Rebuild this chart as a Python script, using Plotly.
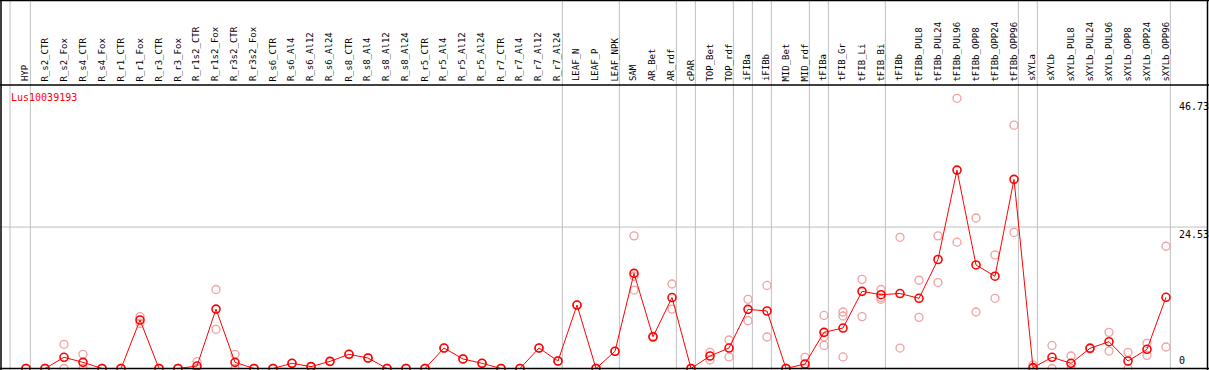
import plotly.graph_objects as go

W, H = 1209, 370

categories = ["HYP", "R_s2_CTR", "R_s2_Fox", "R_s4_CTR", "R_s4_Fox", "R_r1_CTR", "R_r1_Fox",
              "R_r3_CTR", "R_r3_Fox", "R_r1s2_CTR", "R_r1s2_Fox", "R_r3s2_CTR", "R_r3s2_Fox",
              "R_s6_CTR", "R_s6_Al4", "R_s6_Al12", "R_s6_Al24", "R_s8_CTR", "R_s8_Al4", "R_s8_Al12",
              "R_s8_Al24", "R_r5_CTR", "R_r5_Al4", "R_r5_Al12", "R_r5_Al24", "R_r7_CTR", "R_r7_Al4",
              "R_r7_Al12", "R_r7_Al24", "LEAF_N", "LEAF_P", "LEAF_NPK", "SAM", "AR_Bet", "AR_rdf",
              "cPAR", "TOP_Bet", "TOP_rdf", "iFIBa", "iFIBb", "MID_Bet", "MID_rdf", "tFIBa",
              "tFIB_Gr", "tFIB_Li", "tFIB_Bi", "tFIBb", "tFIBb_PUL8", "tFIBb_PUL24", "tFIBb_PUL96",
              "tFIBb_OPP8", "tFIBb_OPP24", "tFIBb_OPP96", "sXYLa", "sXYLb", "sXYLb_PUL8",
              "sXYLb_PUL24", "sXYLb_PUL96", "sXYLb_OPP8", "sXYLb_OPP24", "sXYLb_OPP96"]

mean_values = [0, 0, 1.94, 1.07, 0, 0, 8.41, 0, 0, 0.43, 10.3, 1.07, 0,
               0, 0.9, 0.32, 1.24, 2.46, 1.82, 0, 0, 0, 3.55, 1.65, 0.9, 0, 0, 3.55, 1.3,
               11.0, 0, 2.98, 16.5, 5.5, 12.3, 0, 2.17, 3.55, 10.26, 9.97, 0, 0.78, 6.27,
               7.02, 13.38, 12.8, 13.0, 12.17, 18.9, 34.4, 17.95, 16.0, 32.8,
               0.15, 1.94, 0.9, 3.5, 4.65, 1.3, 3.33, 12.35]

replicate_values = [[0, 0], [0, 0], [4.2, 0], [2.46, 0], [0, 0], [0, 0], [9.0, 7.8], [0, 0], [0, 0],
                    [1.18, 0], [13.7, 6.8], [2.46, 0], [0, 0],
                    [0, 0], [0.9, 0.9], [0.32, 0.32], [1.24, 1.24], [2.46, 2.46], [1.82, 1.82],
                    [0, 0], [0, 0], [0, 0], [3.55, 3.55], [1.65, 1.65], [0.9, 0.9], [0, 0], [0, 0],
                    [3.55, 3.55], [1.3, 1.3],
                    [11.0, 11.0], [0, 0], [2.98, 2.98], [23.0, 16.0, 13.6], [5.6, 5.4], [14.65, 10.3],
                    [0, 0], [2.8, 1.47], [4.94, 2.0], [12.0, 8.3], [14.4, 5.46], [0, 0], [1.94, 0],
                    [9.2, 5.5, 4.0], [9.8, 9.1, 2.0], [15.46, 9.0], [13.7, 12.3, 12.0],
                    [22.75, 3.55], [15.3, 8.87], [23.0, 14.9], [46.85, 21.9], [26.1, 9.8],
                    [19.7, 12.17], [42.2, 23.6],
                    [0.6, 0], [4.0, 0], [2.17, 0], [3.4, 3.6], [6.27, 3.03], [2.8, 0],
                    [4.37, 2.28], [21.2, 3.73]]

y_tick_values = [46.73, 24.53, 0]
y_tick_labels = ["46.73", "24.53", "0"]
gene_name = "Lus10039193"

# category groups: the last member of each group (a grey divider follows it)
group_ends = ["HYP", "R_r7_Al24", "LEAF_NPK", "AR_rdf", "cPAR", "TOP_rdf", "iFIBa", "iFIBb",
              "MID_rdf", "tFIBa", "tFIB_Bi", "tFIBb_OPP96", "sXYLa", "sXYLb_OPP96"]

RED = "#ff0000"
PINK = "#f0a0a0"
GRID = "#c0c0c0"

# pixel geometry
X0_PX, STEP_PX = 26.0, 19.0
ZERO_PX, UNIT_PX = 368.5, 5.767
HEADER_PX = 85.0

x_range = [-X0_PX / STEP_PX, (W - X0_PX) / STEP_PX]
y_range = [-(H - ZERO_PX) / UNIT_PX, (ZERO_PX - HEADER_PX) / UNIT_PX]
y_top_paper = (H - HEADER_PX) / H

def py(p):
    return 1 - p / H

def px(p):
    return p / W

idx = list(range(len(categories)))
rep_x, rep_y = [], []
for i, reps in enumerate(replicate_values):
    for v in reps:
        rep_x.append(i)
        rep_y.append(v)

fig = go.Figure()
fig.add_trace(go.Scatter(x=rep_x, y=rep_y, mode="markers", cliponaxis=False,
                         marker=dict(symbol="circle-open", size=8, color=PINK,
                                     line=dict(width=1.3, color=PINK)),
                         hoverinfo="skip", showlegend=False))
fig.add_trace(go.Scatter(x=idx, y=mean_values, mode="lines+markers", cliponaxis=False,
                         line=dict(color=RED, width=1),
                         marker=dict(symbol="circle-open", size=8, color=RED,
                                     line=dict(width=1.6, color=RED)),
                         showlegend=False))

shapes = []
# vertical group dividers (full height)
div_positions = [-0.84] + [categories.index(c) + 0.23 for c in group_ends]
for d in div_positions:
    shapes.append(dict(type="line", xref="x", yref="paper", x0=d, x1=d, y0=0, y1=1,
                       line=dict(color=GRID, width=1), layer="below"))
# horizontal grid at the middle tick
shapes.append(dict(type="line", xref="paper", yref="y", x0=0, x1=px(1207), y0=24.53, y1=24.53,
                   line=dict(color=GRID, width=1), layer="below"))
# black frame
black = dict(color="#000000", width=1.5)
shapes.append(dict(type="line", xref="paper", yref="paper", x0=0, x1=1, y0=py(0.5), y1=py(0.5), line=black))
shapes.append(dict(type="line", xref="paper", yref="paper", x0=0, x1=1, y0=py(HEADER_PX), y1=py(HEADER_PX), line=black))
shapes.append(dict(type="line", xref="paper", yref="paper", x0=0, x1=1, y0=py(ZERO_PX), y1=py(ZERO_PX), line=black))
shapes.append(dict(type="line", xref="paper", yref="paper", x0=px(1), x1=px(1), y0=0, y1=1, line=black))
shapes.append(dict(type="line", xref="paper", yref="paper", x0=px(1207.5), x1=px(1207.5), y0=0, y1=1, line=black))

annotations = []
for i, c in enumerate(categories):
    annotations.append(dict(x=i - 0.05, xref="x", y=py(83.5), yref="paper", text=c, showarrow=False,
                            textangle=-90, xanchor="center", yanchor="bottom",
                            font=dict(family="DejaVu Sans Mono", size=9, color="#000000")))
for v, t in zip(y_tick_values, y_tick_labels):
    annotations.append(dict(x=px(1177), xref="paper", y=v, yref="y", text=t, showarrow=False,
                            xanchor="left", yanchor="bottom" if v == 0 else "top",
                            yshift=1 if v == 0 else 0,
                            font=dict(family="DejaVu Sans Mono", size=10, color="#000000")))
annotations.append(dict(x=px(9), xref="paper", y=py(90), yref="paper", text=gene_name, showarrow=False,
                        xanchor="left", yanchor="top",
                        font=dict(family="DejaVu Sans Mono", size=10, color=RED)))

fig.update_layout(
    width=W, height=H, autosize=False,
    margin=dict(l=0, r=0, t=0, b=0),
    paper_bgcolor="#ffffff", plot_bgcolor="rgba(0,0,0,0)",
    xaxis=dict(range=x_range, domain=[0, 1], showgrid=False, zeroline=False, showticklabels=False,
               ticks="", fixedrange=True),
    yaxis=dict(range=y_range, domain=[0, y_top_paper], showgrid=False, zeroline=False,
               showticklabels=False, ticks="", fixedrange=True),
    shapes=shapes, annotations=annotations,
)

fig.write_html("out.html", config={"displayModeBar": False})

# remove the browser's default page margin so the figure sits at the window's corner
with open("out.html", "r", encoding="utf-8") as f:
    html = f.read()
html = html.replace("<head>", "<head><style>html,body{margin:0;padding:0;overflow:hidden;}</style>", 1)
with open("out.html", "w", encoding="utf-8") as f:
    f.write(html)
